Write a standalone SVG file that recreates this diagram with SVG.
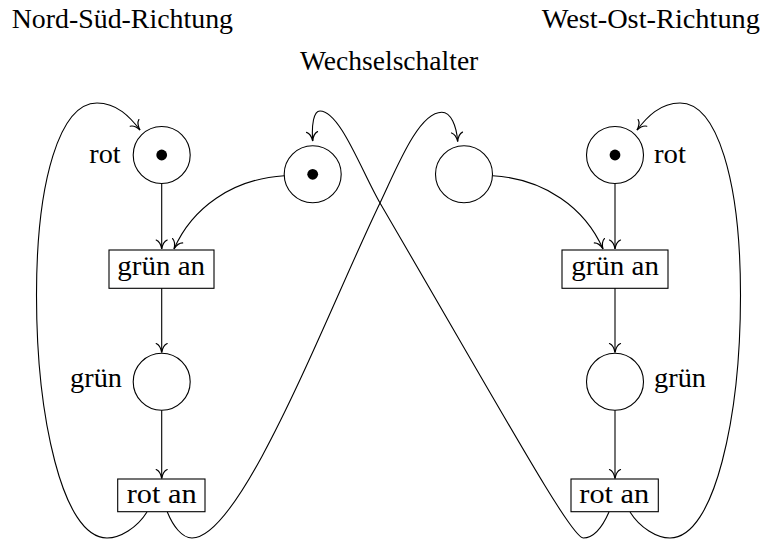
<svg xmlns="http://www.w3.org/2000/svg" width="765" height="540" viewBox="0 0 765 540">
  <style>
    .place { fill: #ffffff; stroke: #000000; stroke-width: 1.1; }
    .trans { fill: #ffffff; stroke: #000000; stroke-width: 1.1; }
    .token { fill: #000000; }
    .lbl { font-family: 'Liberation Serif', 'DejaVu Serif', serif; font-size: 27px; fill: #000000; }
    .arc { fill: none; stroke: #000000; stroke-width: 1.1; marker-end: url(#to); }
  </style>
  <defs>
    <marker id="to" viewBox="-12 -7 14 14" refX="0" refY="0" markerWidth="14" markerHeight="14" markerUnits="userSpaceOnUse" orient="auto">
      <path d="M -9,-5.5 C -7.6,-2.3 -3.6,-0.6 0,0 C -3.6,0.6 -7.6,2.3 -9,5.5" fill="none" stroke="#000000" stroke-width="1.2" stroke-linecap="round"/>
    </marker>
  </defs>

  <!-- headings -->
  <g id="headings">
    <text class="lbl" x="11.7" y="28.3" textLength="221.3" lengthAdjust="spacingAndGlyphs">Nord-Süd-Richtung</text>
    <text class="lbl" x="541.7" y="28.3" textLength="218.3" lengthAdjust="spacingAndGlyphs">West-Ost-Richtung</text>
    <text class="lbl" x="300" y="70" textLength="178.3" lengthAdjust="spacingAndGlyphs">Wechselschalter</text>
  </g>

  <!-- north-south column -->
  <g id="ns-rot">
    <circle class="place" cx="161.7" cy="155" r="28.5"/>
    <circle class="token" cx="161.7" cy="155" r="5.4"/>
    <text class="lbl" x="89.3" y="163.3" textLength="31.4" lengthAdjust="spacingAndGlyphs">rot</text>
  </g>
  <g id="ns-gruen-an">
    <rect class="trans" x="109" y="250" width="105" height="38.3"/>
    <text class="lbl" x="117.3" y="275" textLength="87.7" lengthAdjust="spacingAndGlyphs">grün an</text>
  </g>
  <g id="ns-gruen">
    <circle class="place" cx="161.7" cy="381.7" r="28.5"/>
    <text class="lbl" x="70" y="387" textLength="52" lengthAdjust="spacingAndGlyphs">grün</text>
  </g>
  <g id="ns-rot-an">
    <rect class="trans" x="117.7" y="479" width="87.3" height="32.7"/>
    <text class="lbl" x="126.7" y="503.3" textLength="70" lengthAdjust="spacingAndGlyphs">rot an</text>
  </g>

  <!-- switch places -->
  <g id="switch-ns">
    <circle class="place" cx="312.7" cy="174.3" r="28.5"/>
    <circle class="token" cx="312.7" cy="174.3" r="5.4"/>
  </g>
  <g id="switch-wo">
    <circle class="place" cx="464" cy="174.3" r="28.5"/>
  </g>

  <!-- west-east column -->
  <g id="wo-rot">
    <circle class="place" cx="615" cy="155" r="28.5"/>
    <circle class="token" cx="615" cy="155" r="5.4"/>
    <text class="lbl" x="654" y="163.3" textLength="32" lengthAdjust="spacingAndGlyphs">rot</text>
  </g>
  <g id="wo-gruen-an">
    <rect class="trans" x="562" y="250" width="106" height="38.3"/>
    <text class="lbl" x="571.2" y="275" textLength="87.7" lengthAdjust="spacingAndGlyphs">grün an</text>
  </g>
  <g id="wo-gruen">
    <circle class="place" cx="615" cy="381.7" r="28.5"/>
    <text class="lbl" x="654" y="387" textLength="52" lengthAdjust="spacingAndGlyphs">grün</text>
  </g>
  <g id="wo-rot-an">
    <rect class="trans" x="571" y="479" width="87.3" height="32.7"/>
    <text class="lbl" x="579.3" y="503.3" textLength="70" lengthAdjust="spacingAndGlyphs">rot an</text>
  </g>

  <!-- arcs -->
  <g id="connectors">
    <!-- north-south column -->
    <path class="arc" d="M161.7,183.5 L161.7,249"/>
    <path class="arc" d="M161.7,288.3 L161.7,352.5"/>
    <path class="arc" d="M161.7,410.2 L161.7,478.5"/>
    <!-- west-east column -->
    <path class="arc" d="M615,183.5 L615,249"/>
    <path class="arc" d="M615,288.3 L615,352.5"/>
    <path class="arc" d="M615,410.2 L615,478.5"/>
    <!-- switch places into the grün an transitions -->
    <path class="arc" d="M284.3,175.7 C232,179 192,208 174,249"/>
    <path class="arc" d="M492.7,175.7 C545,179 585,208 603,249"/>
    <!-- rot an back to rot (outer loops) -->
    <path class="arc" d="M147,512 C137,528 120,538 107,538 C62,538 36.5,415 36.5,295 C36.5,180 60,103 97,103 C117,103 130,117 140,130"/>
    <path class="arc" d="M630,512 C640,528 657,538 670,538 C715,538 740.5,415 740.5,295 C740.5,180 717,103 680,103 C660,103 647,117 637,130"/>
    <!-- rot an back to the switch places (crossing arcs) -->
    <path class="arc" d="M167.3,512 C173,526 182,538 192,538 C242,538 327.8,311 380,203 C395.7,170.6 418,112.3 441.7,112.3 C451,112.3 456.5,126 457.7,141.5"/>
    <path class="arc" d="M609,512 C602,528 593,538 583.3,538 C571.3,538 506,419 380,203 C361.9,171.9 340,111 320,111 C313.5,111 311.5,125 312.7,141"/>
  </g>
</svg>
